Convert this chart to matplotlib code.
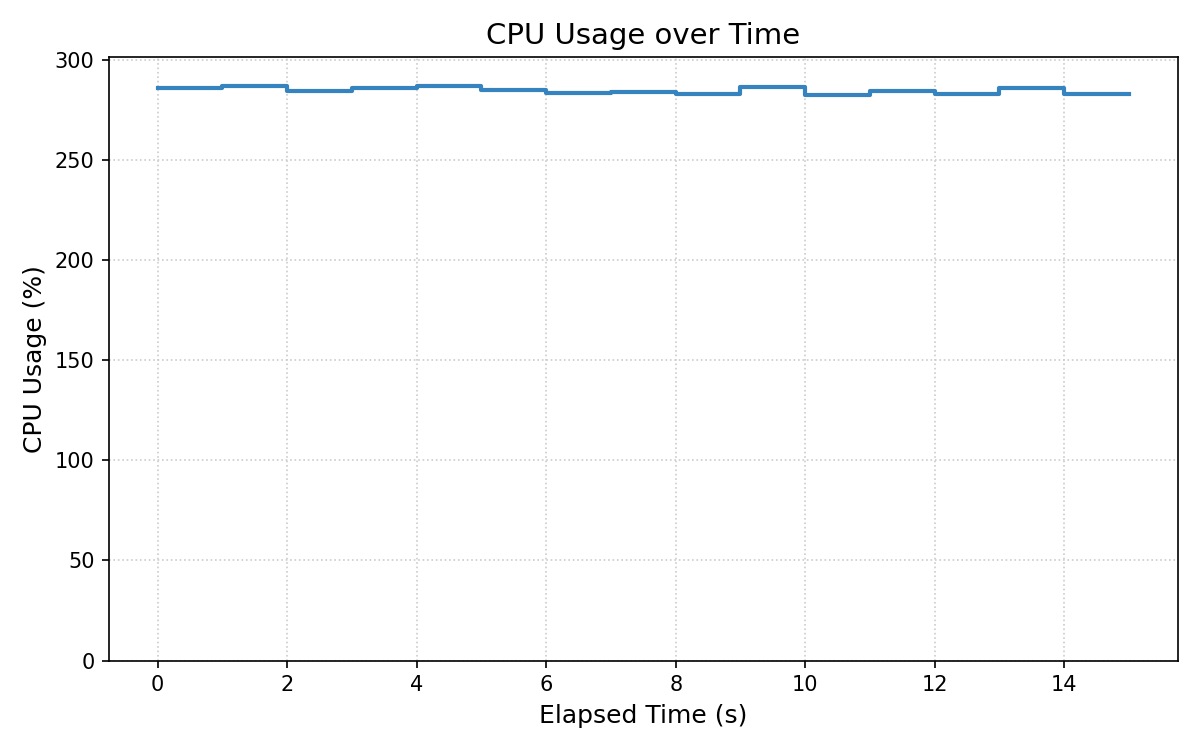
import matplotlib
matplotlib.use("Agg")
import matplotlib.pyplot as plt

elapsed_s = list(range(16))
cpu_usage = [286.1, 287.1, 284.6, 286.1, 287.1, 285.1, 283.6, 284.1,
             282.8, 286.4, 282.6, 284.6, 283.1, 285.8, 283.1, 283.1]

fig, ax = plt.subplots(figsize=(8, 5), dpi=150)
ax.step(elapsed_s, cpu_usage, where='post', color='#3584bf', linewidth=2.0)
ax.set_ylim(0, max(cpu_usage) * 1.05)
ax.set_xticks(range(0, 16, 2))
ax.set_title("CPU Usage over Time", fontsize=14)
ax.set_xlabel("Elapsed Time (s)", fontsize=12)
ax.set_ylabel("CPU Usage (%)", fontsize=12)
ax.grid(True, linestyle=':', color='#cccccc', linewidth=0.8)
fig.tight_layout()
fig.savefig("out.png", dpi=150)
